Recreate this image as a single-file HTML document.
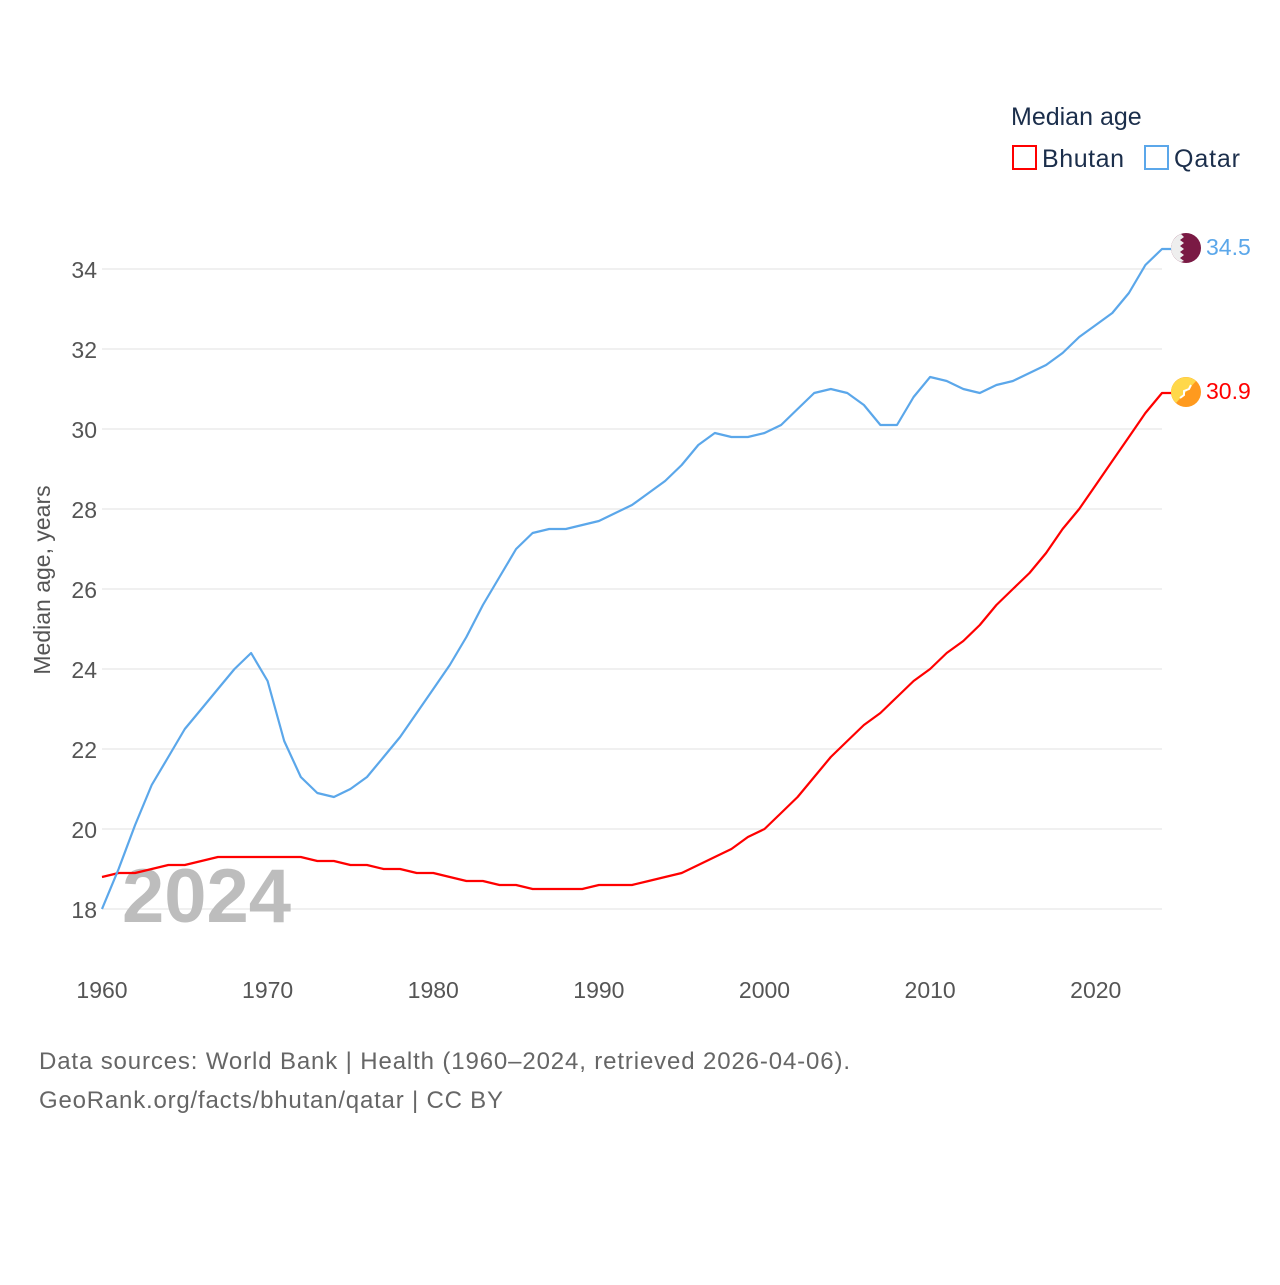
<!DOCTYPE html>
<html><head><meta charset="utf-8"><style>
body{margin:0;background:#fff;width:1280px;height:1280px;overflow:hidden;font-family:"Liberation Sans",sans-serif}
svg text{font-family:"Liberation Sans",sans-serif}
</style></head><body>
<svg id="chart" width="1280" height="1280" xmlns="http://www.w3.org/2000/svg">
<g id="grid"></g>
<g id="yticks"></g>
<g id="xticks"></g>
<text x="122" y="922" font-size="76" font-weight="bold" fill="#bdbdbd">2024</text>
<text transform="translate(50,580) rotate(-90)" text-anchor="middle" font-size="23" fill="#555">Median age, years</text>
<g id="series"></g>
<g>
<text x="1011" y="125" font-size="25" fill="#1b2e4b">Median age</text>
<rect x="1013" y="146" width="23" height="23" fill="none" stroke="#ff0000" stroke-width="2"/>
<text x="1042" y="167" font-size="25" fill="#1b2e4b" textLength="82">Bhutan</text>
<rect x="1145" y="146" width="23" height="23" fill="none" stroke="#5ba7ea" stroke-width="2"/>
<text x="1174" y="167" font-size="25" fill="#1b2e4b" textLength="66">Qatar</text>
</g>
<g>
<circle cx="1186" cy="248" r="15" fill="#7a1a44"/>
<path d="M1171,248 A15,15 0 0 1 1181,234 L1184,237 L1180,240 L1184,243 L1180,246 L1184,249 L1180,252 L1184,255 L1180,258 L1184,261 L1181,262 A15,15 0 0 1 1171,248Z" fill="#eee"/>
</g>
<g>
<circle cx="1186" cy="392" r="15" fill="#ff9a1e"/>
<path d="M1171,392 A15,15 0 0 1 1196,381 L1176,403 A15,15 0 0 1 1171,392Z" fill="#ffd84a"/>
<path d="M1180,398 l4,-3 l0,-4 l5,-2 l2,-4" stroke="#fff" stroke-width="2" fill="none"/>
</g>
<text x="1206" y="255" font-size="23" fill="#5ba7ea">34.5</text>
<text x="1206" y="399" font-size="23" fill="#ff0000">30.9</text>
<text x="39" y="1069" font-size="24" fill="#666" textLength="811">Data sources: World Bank | Health (1960–2024, retrieved 2026-04-06).</text>
<text x="39" y="1108" font-size="24" fill="#666" textLength="464">GeoRank.org/facts/bhutan/qatar | CC BY</text>
</svg>
<script>
const startYear = 1960;
const qatar = [18.0,19.0,20.1,21.1,21.8,22.5,23.0,23.5,24.0,24.4,23.7,22.2,21.3,20.9,20.8,21.0,21.3,21.8,22.3,22.9,23.5,24.1,24.8,25.6,26.3,27.0,27.4,27.5,27.5,27.6,27.7,27.9,28.1,28.4,28.7,29.1,29.6,29.9,29.8,29.8,29.9,30.1,30.5,30.9,31.0,30.9,30.6,30.1,30.1,30.8,31.3,31.2,31.0,30.9,31.1,31.2,31.4,31.6,31.9,32.3,32.6,32.9,33.4,34.1,34.5];
const bhutan = [18.8,18.9,18.9,19.0,19.1,19.1,19.2,19.3,19.3,19.3,19.3,19.3,19.3,19.2,19.2,19.1,19.1,19.0,19.0,18.9,18.9,18.8,18.7,18.7,18.6,18.6,18.5,18.5,18.5,18.5,18.6,18.6,18.6,18.7,18.8,18.9,19.1,19.3,19.5,19.8,20.0,20.4,20.8,21.3,21.8,22.2,22.6,22.9,23.3,23.7,24.0,24.4,24.7,25.1,25.6,26.0,26.4,26.9,27.5,28.0,28.6,29.2,29.8,30.4,30.9];
const yTicks = [18,20,22,24,26,28,30,32,34];
const xTicks = [1960,1970,1980,1990,2000,2010,2020];
const NS="http://www.w3.org/2000/svg";
const xs = y => 102 + (y-1960)*(1162-102)/64;
const ys = v => 909 - (v-18)*40;
function mk(tag, attrs, parent){const e=document.createElementNS(NS,tag);for(const k in attrs)e.setAttribute(k,attrs[k]);parent.appendChild(e);return e;}
const grid=document.getElementById('grid'), yt=document.getElementById('yticks'), xt=document.getElementById('xticks'), ser=document.getElementById('series');
yTicks.forEach(v=>{
  const l=mk('line',{x1:102,x2:1162,y1:ys(v),y2:ys(v),stroke:'#e6e6e6','stroke-width':1.2},grid);
  
  
  const t=mk('text',{x:97,y:ys(v)+9,'text-anchor':'end','font-size':23,fill:'#555'},yt);
  t.textContent=v;
  
  
});
xTicks.forEach(v=>{
  const t=mk('text',{x:xs(v),y:998,'text-anchor':'middle','font-size':23,fill:'#555'},xt);
  t.textContent=v;
  
  
});
function line(data,color,name){
  const last=data[data.length-1];
  const d=data.map((v,i)=>(i?'L':'M')+xs(startYear+i).toFixed(1)+','+ys(v).toFixed(1)).join(' ')+' L1172,'+ys(last).toFixed(1);
  const p=mk('path',{d:d,fill:'none',stroke:color,'stroke-width':2.2,'stroke-linejoin':'round'},ser);
  
  
}
line(bhutan,'#ff0000','bhutan-line');
line(qatar,'#5ba7ea','qatar-line');
</script>
</body></html>
